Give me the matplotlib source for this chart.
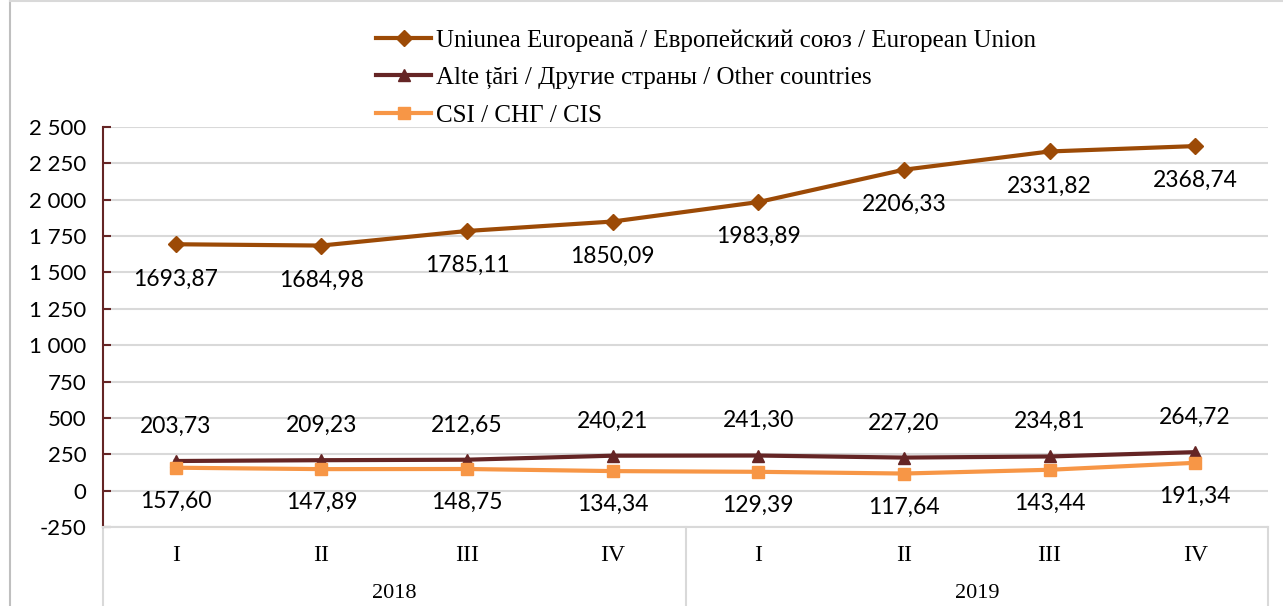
import matplotlib
matplotlib.use("Agg")
import matplotlib.pyplot as plt
from matplotlib.lines import Line2D
from matplotlib.ticker import FuncFormatter

# Date
trimestre = ["I", "II", "III", "IV", "I", "II", "III", "IV"]
ani = ["2018", "2019"]
ue = [1693.87, 1684.98, 1785.11, 1850.09, 1983.89, 2206.33, 2331.82, 2368.74]
alte = [203.73, 209.23, 212.65, 240.21, 241.30, 227.20, 234.81, 264.72]
csi = [157.60, 147.89, 148.75, 134.34, 129.39, 117.64, 143.44, 191.34]

nume_ue = "Uniunea Europeană / Европейский союз / European Union"
nume_alte = "Alte țări / Другие страны / Other countries"
nume_csi = "CSI / СНГ / CIS"

c_ue = "#9C4A06"
c_alte = "#652525"
c_csi = "#F79646"

serif = ["Liberation Serif", "DejaVu Serif"]
sans = ["Lato", "DejaVu Sans"]

fig = plt.figure(figsize=(12.83, 6.06), dpi=100)
ax = fig.add_axes([103 / 1283, 1 - 527 / 606, (1268 - 103) / 1283, 400 / 606])

x = list(range(len(trimestre)))
ax.plot(x, ue, color=c_ue, lw=3, marker="D", ms=8, label=nume_ue, zorder=3)
ax.plot(x, alte, color=c_alte, lw=3, marker="^", ms=9, label=nume_alte, zorder=3)
ax.plot(x, csi, color=c_csi, lw=3, marker="s", ms=9, label=nume_csi, zorder=4)


def fmt(v):
    return f"{v:.2f}".replace(".", ",")


for xi, v in zip(x, ue):
    ax.annotate(fmt(v), (xi, v), xytext=(0, -25), textcoords="offset points",
                ha="center", va="center", fontsize=16.5, family=sans)
for xi, v in zip(x, alte):
    ax.annotate(fmt(v), (xi, v), xytext=(0, 25), textcoords="offset points",
                ha="center", va="center", fontsize=16.5, family=sans)
for xi, v in zip(x, csi):
    ax.annotate(fmt(v), (xi, v), xytext=(0, -24), textcoords="offset points",
                ha="center", va="center", fontsize=16.5, family=sans)

ax.set_xlim(-0.5, 7.5)
ax.set_ylim(-250, 2500)
ax.set_yticks(range(-250, 2501, 250))
ax.yaxis.set_major_formatter(FuncFormatter(lambda v, p: f"{int(v):,}".replace(",", " ")))
ax.grid(axis="y", color="#D9D9D9", lw=1.5)
ax.set_axisbelow(True)
ax.set_xticks([])
for s in ["top", "right"]:
    ax.spines[s].set_visible(False)
ax.spines["bottom"].set_color("#D9D9D9")
ax.spines["bottom"].set_linewidth(1.5)
ax.spines["left"].set_color(c_alte)
ax.spines["left"].set_linewidth(1.5)
ax.tick_params(axis="y", direction="in", length=6, width=1.5, color=c_alte,
               labelsize=16, pad=12)
for lab in ax.get_yticklabels():
    lab.set_family(sans)

# etichete categorii (trimestre si ani)
for xi, t in zip(x, trimestre):
    ax.text(xi, -0.072, t, transform=ax.get_xaxis_transform(), ha="center",
            va="center", fontsize=17, family=serif)
for i, an in enumerate(ani):
    ax.text(1.5 + 4 * i, -0.165, an, transform=ax.get_xaxis_transform(),
            ha="center", va="center", fontsize=16, family=serif)
for xv in [-0.5, 3.5, 7.5]:
    ax.plot([xv, xv], [0, -0.25], transform=ax.get_xaxis_transform(),
            color="#D9D9D9", lw=1.5, clip_on=False)

# chenar exterior
fig.add_artist(Line2D([10 / 1283, 10 / 1283], [0, 1], color="#BFBFBF", lw=1.5))
fig.add_artist(Line2D([10 / 1283, 1], [1 - 1 / 606, 1 - 1 / 606], color="#D9D9D9", lw=1.5))

fig.legend(loc="upper left", bbox_to_anchor=(376 / 1283, 1 - 29 / 606),
           frameon=False, prop={"family": serif, "size": 18},
           handlelength=2.2, handletextpad=0.2, labelspacing=0.6,
           borderpad=0, borderaxespad=0)

fig.savefig("out.png", dpi=100)
